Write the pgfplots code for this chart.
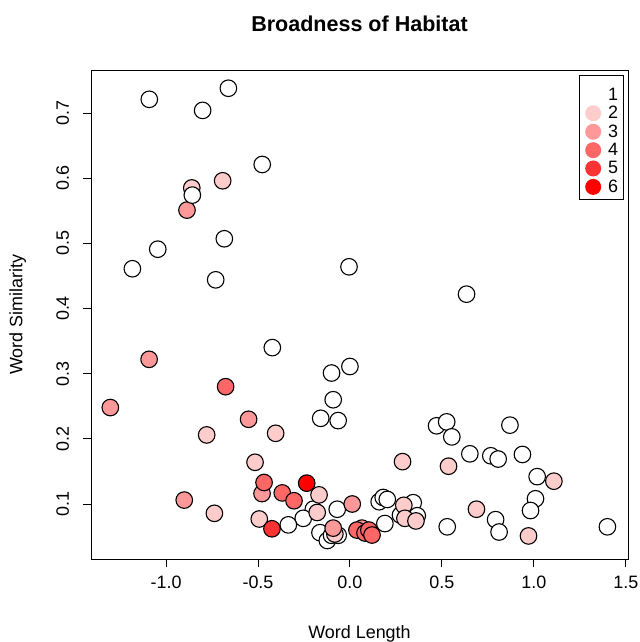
\documentclass[border=0pt]{standalone}
\usepackage{fontspec}
\setmainfont{Liberation Sans}
\usepackage{pgfplots}
\pgfplotsset{compat=1.18}
\definecolor{c2}{HTML}{FFCCCC}
\definecolor{c3}{HTML}{FF9999}
\definecolor{c4}{HTML}{FF6666}
\definecolor{c5}{HTML}{FF3333}
\definecolor{c6}{HTML}{FF0000}
\begin{document}
\begin{tikzpicture}
\path[use as bounding box] (-91bp,-83bp) rectangle (549bp,559bp);
\begin{axis}[
  at={(0,0)}, anchor=south west,
  scale only axis, width=537bp, height=489bp,
  xmin=-1.408, xmax=1.512, ymin=0.0156, ymax=0.766,
  axis line style={line width=0.9bp},
  tick align=outside, xtick pos=bottom, ytick pos=left,
  major tick length=8bp,
  every tick/.style={black, line width=0.9bp},
  xtick={-1,-0.5,0,0.5,1,1.5},
  xticklabels={-1.0,-0.5,0.0,0.5,1.0,1.5},
  ytick={0.1,0.2,0.3,0.4,0.5,0.6,0.7},
  yticklabels={0.1,0.2,0.3,0.4,0.5,0.6,0.7},
  tick label style={font=\fontsize{18}{21}\selectfont},
  xticklabel style={anchor=base, yshift=-21bp},
  yticklabel style={rotate=90, anchor=base, yshift=14bp},
  title={Broadness of Habitat},
  title style={font=\bfseries\fontsize{21.6}{26}\selectfont, at={(axis description cs:0.5,1)}, anchor=base, yshift=33bp},
  xlabel={Word Length},
  xlabel style={font=\fontsize{18}{21}\selectfont, at={(axis description cs:0.5,0)}, anchor=base, yshift=-79.5bp},
  ylabel={Word Similarity},
  ylabel style={font=\fontsize{18}{21}\selectfont, at={(axis description cs:0,0.5)}, anchor=base, yshift=68.5bp},
  legend style={at={(rel axis cs:0.9199,0.9678)}, anchor=north west, draw=none, fill=none,
    font=\fontsize{18}{18.7}\selectfont, inner sep=0bp,
    row sep=0.5bp, cells={anchor=west}},
  legend image code/.code={\path[draw=none, fill=none] (0bp,0bp) -- (21bp,0bp); \fill[#1, draw=none] (8bp,0bp) circle (8bp);},
]
\draw[line width=0.9bp] (rel axis cs:0.9088,0.7362) rectangle (rel axis cs:0.9907,0.9898);
\addplot[only marks, mark=*, mark size=8.3bp, fill=white, mark options={draw=black, line width=1.1bp}] table {
-1.091 0.721
-0.661 0.738
-0.801 0.704
-0.477 0.621
-0.683 0.507
-1.045 0.491
-1.183 0.461
-0.730 0.444
-0.005 0.464
0.634 0.422
-0.422 0.340
-0.100 0.301
0.000 0.311
-0.091 0.260
-0.159 0.2315
-0.064 0.228
0.471 0.220
0.526 0.226
0.554 0.203
0.870 0.221
0.652 0.177
0.766 0.174
0.806 0.169
0.938 0.176
1.018 0.142
1.009 0.108
0.982 0.090
0.792 0.076
0.811 0.057
1.400 0.065
0.529 0.065
0.159 0.1035
0.181 0.110
0.203 0.107
0.344 0.102
0.275 0.083
0.366 0.082
0.190 0.070
-0.069 0.092
-0.199 0.092
-0.254 0.078
-0.335 0.068
-0.163 0.056
-0.123 0.044
-0.100 0.052
-0.064 0.052
};
\addlegendentry{1}
\addplot[only marks, mark=*, mark size=8.3bp, fill=c2, mark options={draw=black, line width=1.1bp}] table {
-0.860 0.585
-0.692 0.596
-0.779 0.206
-0.404 0.2085
-0.516 0.164
-0.737 0.0857
-0.493 0.077
-0.168 0.114
-0.178 0.087
-0.082 0.054
0.286 0.165
0.536 0.158
1.109 0.135
0.688 0.092
0.971 0.051
0.293 0.098
0.299 0.078
0.359 0.074
};
\addlegendentry{2}
\addplot[only marks, mark=*, mark size=8.3bp, fill=c3, mark options={draw=black, line width=1.1bp}] table {
-0.886 0.551
-1.092 0.322
-1.303 0.248
-0.551 0.230
-0.478 0.116
-0.901 0.106
-0.091 0.063
0.0125 0.100
0.065 0.063
};
\addlegendentry{3}
\addplot[only marks, mark=*, mark size=8.3bp, fill=c4, mark options={draw=black, line width=1.1bp}] table {
-0.676 0.280
-0.467 0.133
-0.368 0.117
-0.304 0.105
0.038 0.060
0.082 0.0555
0.103 0.060
0.120 0.0524
};
\addlegendentry{4}
\addplot[only marks, mark=*, mark size=8.3bp, fill=c5, mark options={draw=black, line width=1.1bp}] table {
-0.424 0.062
};
\addlegendentry{5}
\addplot[only marks, mark=*, mark size=8.3bp, fill=c6, mark options={draw=black, line width=1.1bp}] table {
-0.235 0.132
};
\addlegendentry{6}
\addplot[only marks, mark=*, mark size=8.3bp, fill=white, mark options={draw=black, line width=1.1bp}, forget plot] table {
-0.857 0.574
};
\end{axis}
\end{tikzpicture}
\end{document}
